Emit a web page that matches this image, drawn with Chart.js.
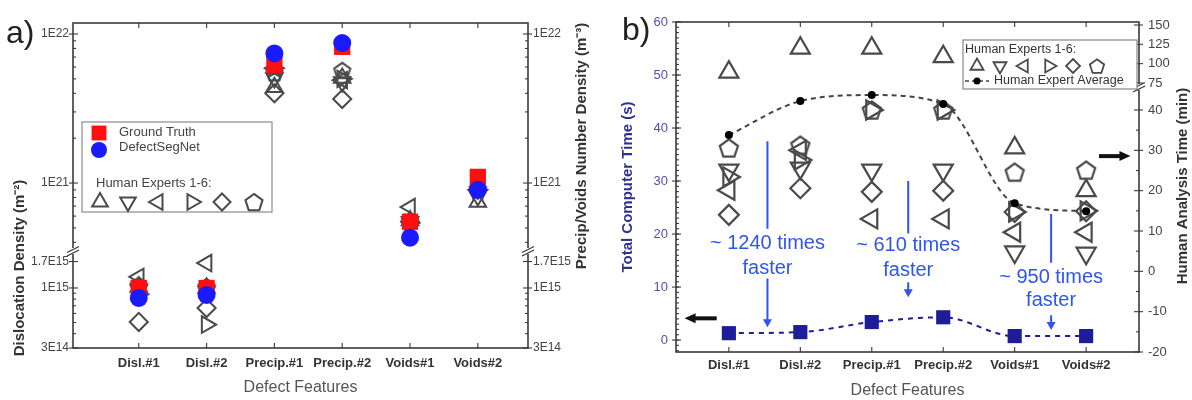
<!DOCTYPE html>
<html>
<head>
<meta charset="utf-8">
<script src="https://cdn.jsdelivr.net/npm/chart.js@4.4.1/dist/chart.umd.min.js"></script>
<style>
  html, body { margin: 0; padding: 0; background: #fff; }
  .panel { position: absolute; top: 0; width: 596px; height: 400px; }
  #panelA { left: 0; }
  #panelB { left: 596px; }
</style>
</head>
<body>
<div class="panel" id="panelA"><canvas id="chartA"></canvas></div>
<div class="panel" id="panelB"><canvas id="chartB"></canvas></div>
<script>
const features = ['Disl.#1', 'Disl.#2', 'Precip.#1', 'Precip.#2', 'Voids#1', 'Voids#2'];

// a) densities: Disl. in m^-2, Precip./Voids in m^-3
const groundTruth    = [1.0e15, 1.0e15, 6.2e21, 8.2e21, 5.5e20, 1.1e21];
const defectSegNet   = [8.2e14, 8.7e14, 7.4e21, 8.7e21, 4.3e20, 9.0e20];
const densityExpert1 = [1.02e15, 1.0e15, 4.4e21, 5.07e21, 5.6e20, 7.45e20];
const densityExpert2 = [9.6e14, 9.3e14, 5.07e21, 4.76e21, 5.5e20, 8.2e20];
const densityExpert3 = [1.25e15, 1.65e15, 5.9e21, 4.9e21, 6.9e20, 9.0e20];
const densityExpert4 = [8.8e14, 4.8e14, 5.9e21, 5.0e21, 5.4e20, 9.0e20];
const densityExpert5 = [5.06e14, 6.7e14, 4.0e21, 3.66e21, 5.5e20, 9.0e20];
const densityExpert6 = [1.06e15, 1.03e15, 5.5e21, 5.7e21, 5.6e20, 9.2e20];
const densityTicksLow  = [3e14, 1e15, 1.7e15];
const densityLabelsLow = ['3E14', '1E15', '1.7E15'];
const densityTicksHigh  = [1e21, 1e22];
const densityLabelsHigh = ['1E21', '1E22'];

// b) times: computer in s, human experts in min
const computerTime = [1.3, 1.5, 3.4, 4.3, 0.75, 0.75];
const timeExpert1 = [89, 120, 120, 109, 30.6, 20];
const timeExpert2 = [25.1, 25.6, 25.1, 25.1, 4.8, 4.5];
const timeExpert3 = [20.1, 30, 13, 13, 9.7, 9.7];
const timeExpert4 = [23.4, 27.6, 40, 40, 14.7, 15];
const timeExpert5 = [14, 20.6, 19.7, 20, 14.7, 14.9];
const timeExpert6 = [30.6, 31.3, 40, 40, 24.6, 25.1];
const timeAverage = [33.8, 42.2, 43.7, 41.5, 16.9, 14.9];
const computerTicks = [0, 10, 20, 30, 40, 50, 60];
const humanTicksLow = [-20, -10, 0, 10, 20, 30, 40];
const humanTicksHigh = [75, 100, 125, 150];
const speedupLabels = ['~ 1240 times', '~ 610 times', '~ 950 times'];

const expertKinds = ['up', 'down', 'left', 'right', 'diamond', 'pentagon'];

Chart.defaults.font.family = "'Liberation Sans', Arial, Helvetica, sans-serif";
Chart.defaults.color = '#444';
Chart.defaults.animation = false;

const FONT = "'Liberation Sans', Arial, Helvetica, sans-serif";
const INK = '#4a4a4a';

function markerPath(ctx, kind, x, y, r) {
  const rot = {up: 0, down: 180, left: 270, right: 90}[kind];
  ctx.beginPath();
  if (rot !== undefined) {
    for (let k = 0; k < 3; k++) {
      const t = rot * Math.PI / 180 + k * 2 * Math.PI / 3;
      const px = x + Math.sin(t) * r, py = y - Math.cos(t) * r;
      k ? ctx.lineTo(px, py) : ctx.moveTo(px, py);
    }
  } else if (kind === 'diamond') {
    ctx.moveTo(x, y - r); ctx.lineTo(x + r, y); ctx.lineTo(x, y + r); ctx.lineTo(x - r, y);
  } else if (kind === 'pentagon') {
    for (let k = 0; k < 5; k++) {
      const t = -Math.PI / 2 + k * 2 * Math.PI / 5;
      const px = x + Math.cos(t) * r, py = y + r * 0.1 + Math.sin(t) * r;
      k ? ctx.lineTo(px, py) : ctx.moveTo(px, py);
    }
  } else if (kind === 'square') {
    ctx.rect(x - r * 0.707, y - r * 0.707, r * 1.414, r * 1.414);
  } else {
    ctx.arc(x, y, r, 0, Math.PI * 2);
  }
  ctx.closePath();
}

function drawMarker(ctx, kind, x, y, r, stroke, fill, lw) {
  ctx.save();
  markerPath(ctx, kind, x, y, r);
  if (fill) { ctx.fillStyle = fill; ctx.fill(); }
  if (stroke) { ctx.strokeStyle = stroke; ctx.lineWidth = lw; ctx.stroke(); }
  ctx.restore();
}

function pentagonImage(r, lw) {
  const c = document.createElement('canvas');
  c.width = c.height = Math.ceil(2 * r + 2 * lw + 2);
  drawMarker(c.getContext('2d'), 'pentagon', c.width / 2, c.height / 2, r, INK, null, lw);
  return c;
}

function pointLook(kind, r, pent) {
  const base = {pointBorderColor: INK, pointBackgroundColor: 'rgba(0,0,0,0)', pointBorderWidth: 2, pointRadius: r, pointRotation: 0};
  if (kind === 'diamond') return {...base, pointStyle: 'rectRot', pointRadius: r * 0.95};
  if (kind === 'pentagon') return {...base, pointStyle: pent};
  return {...base, pointStyle: 'triangle', pointRotation: {up: 0, down: 180, left: 270, right: 90}[kind]};
}

const minorLog = (lo, hi) => {
  const out = [];
  for (let e = Math.floor(Math.log10(lo)); e <= Math.ceil(Math.log10(hi)); e++) {
    for (let m = 2; m <= 9; m++) {
      const v = m * Math.pow(10, e);
      if (v > lo && v < hi) out.push(v);
    }
  }
  return out;
};
const steps = (a, b, s) => { const out = []; for (let v = a; v <= b + 1e-9; v += s) out.push(v); return out; };

// frame, inward ticks and axis breaks
const framePlugin = {
  id: 'frame',
  beforeDatasetsDraw(chart, args, o) {
    const {ctx, chartArea: a} = chart;
    ctx.save();
    ctx.strokeStyle = '#3a3a3a';
    ctx.lineWidth = 1.6;
    ctx.strokeRect(a.left, a.top, a.right - a.left, a.bottom - a.top);
    ctx.lineWidth = 1.1;
    for (const t of o.ticks || []) {
      const s = chart.scales[t.scale];
      for (const v of t.values) {
        const p = s.getPixelForValue(v);
        ctx.beginPath();
        if (s.isHorizontal()) {
          ctx.moveTo(p, a.bottom); ctx.lineTo(p, a.bottom - t.len);
          ctx.moveTo(p, a.top); ctx.lineTo(p, a.top + t.len);
        } else {
          const left = s.position === 'left';
          const x = left ? a.left : a.right, d = left ? 1 : -1;
          ctx.moveTo(x - d * (t.out || 0), p); ctx.lineTo(x + d * t.len, p);
        }
        ctx.stroke();
      }
    }
    for (const b of o.breaks || []) {
      const s = chart.scales[b];
      const y = s.bottom;
      const x = s.position === 'left' ? a.left : a.right;
      ctx.fillStyle = '#fff';
      ctx.fillRect(x - 3, y - 3, 6, 6);
      ctx.lineWidth = 1.3;
      ctx.beginPath();
      ctx.moveTo(x - 6, y + 1.5); ctx.lineTo(x + 6, y - 4.5);
      ctx.moveTo(x - 6, y + 5); ctx.lineTo(x + 6, y - 1);
      ctx.stroke();
    }
    ctx.restore();
  }
};

function vtext(ctx, text, x, y, font, color) {
  ctx.save();
  ctx.translate(x, y);
  ctx.rotate(-Math.PI / 2);
  ctx.font = font;
  ctx.fillStyle = color;
  ctx.textAlign = 'center';
  ctx.textBaseline = 'middle';
  ctx.fillText(text, 0, 0);
  ctx.restore();
}

// ---------- a) ----------
const pentA = pentagonImage(8.5, 2);
const datasetsA = [];
function addDensity(label, values, look, order) {
  const low = [], high = [];
  values.forEach((v, i) => (features[i].startsWith('Disl') ? low : high).push({x: i, y: v}));
  datasetsA.push({label, data: low, yAxisID: 'yLow', order, clip: false, ...look});
  datasetsA.push({label, data: high, yAxisID: 'yHigh', order, clip: false, ...look});
}
addDensity('DefectSegNet', defectSegNet, {pointStyle: 'circle', pointRadius: 9, pointBackgroundColor: '#1a1aff', pointBorderColor: '#1a1aff', pointBorderWidth: 0}, 0);
addDensity('Ground Truth', groundTruth, {pointStyle: 'rect', pointRadius: 11.5, pointBackgroundColor: '#ff1010', pointBorderColor: '#ff1010', pointBorderWidth: 0}, 1);
[densityExpert1, densityExpert2, densityExpert3, densityExpert4, densityExpert5, densityExpert6].forEach((vals, k) => {
  addDensity('Human Expert ' + (k + 1), vals, pointLook(expertKinds[k], 9.5, pentA), 2);
});

function logAxis(position, stack, weight, min, max, ticks, labels, width, pad) {
  return {
    type: 'logarithmic', position, stack, stackWeight: weight, min, max, bounds: 'data',
    grid: {display: false, drawTicks: false}, border: {display: false},
    afterBuildTicks: s => { s.ticks = ticks.map(v => ({value: v})); },
    afterFit: s => { s.width = width; },
    ticks: {callback: (v, i) => labels[i], autoSkip: false, padding: pad, color: '#444', font: {size: 12}}
  };
}

const extrasA = {
  id: 'extrasA',
  afterDraw(chart) {
    const {ctx, chartArea: a} = chart;
    ctx.save();
    ctx.fillStyle = '#222';
    ctx.font = '32px ' + FONT;
    ctx.fillText('a)', 6, 43);
    vtext(ctx, 'Dislocation Density (m\u207B\u00B2)', 20, 268, 'bold 15px ' + FONT, '#333');
    vtext(ctx, 'Precip/Voids Number Density (m\u207B\u00B3)', 582, 146, 'bold 15px ' + FONT, '#333');

    const bx = a.left + 9, by = a.top + 99;
    ctx.strokeStyle = '#8a8a8a'; ctx.lineWidth = 1.2;
    ctx.strokeRect(bx, by, 190, 90);
    drawMarker(ctx, 'square', bx + 17, by + 11, 10.5, null, '#ff1010');
    drawMarker(ctx, 'circle', bx + 17, by + 28, 8, null, '#1a1aff');
    ctx.fillStyle = '#444';
    ctx.font = '13px ' + FONT;
    ctx.textBaseline = 'middle';
    ctx.fillText('Ground Truth', bx + 37, by + 10);
    ctx.fillText('DefectSegNet', bx + 37, by + 25);
    ctx.fillText('Human Experts 1-6:', bx + 14, by + 61);
    [18, 46, 76, 110, 140, 172].forEach((dx, k) => {
      drawMarker(ctx, expertKinds[k], bx + dx, by + 80, expertKinds[k] === 'diamond' ? 8.5 : 9, INK, null, 2);
    });
    ctx.restore();
  }
};

new Chart(document.getElementById('chartA'), {
  type: 'scatter',
  data: {datasets: datasetsA},
  options: {
    responsive: true,
    maintainAspectRatio: false,
    layout: {padding: {top: 23, left: 0, right: 0, bottom: 0}},
    plugins: {
      legend: {display: false},
      tooltip: {enabled: false},
      frame: {
        ticks: [
          {scale: 'x', values: features.map((f, i) => i), len: 5},
          {scale: 'yHigh', values: densityTicksHigh, len: 5, out: 4},
          {scale: 'yHigh', values: minorLog(3.5e20, 1.185e22), len: 3},
          {scale: 'yLow', values: densityTicksLow, len: 5, out: 4},
          {scale: 'yLow', values: minorLog(3e14, 2.1e15), len: 3},
          {scale: 'yHighR', values: densityTicksHigh, len: 5, out: 4},
          {scale: 'yHighR', values: minorLog(3.5e20, 1.185e22), len: 3},
          {scale: 'yLowR', values: densityTicksLow, len: 5, out: 4},
          {scale: 'yLowR', values: minorLog(3e14, 2.1e15), len: 3}
        ],
        breaks: ['yHigh', 'yHighR']
      }
    },
    scales: {
      x: {
        type: 'linear', min: -0.97, max: 5.74, bounds: 'data',
        grid: {display: false, drawTicks: false}, border: {display: false},
        afterBuildTicks: s => { s.ticks = features.map((f, i) => ({value: i})); },
        afterFit: s => { s.height = 52; },
        ticks: {callback: v => features[v], autoSkip: false, maxRotation: 0, padding: 8, color: '#333', font: {size: 13, weight: 'bold'}},
        title: {display: true, text: 'Defect Features', color: '#555', font: {size: 16}, padding: {top: 0, bottom: 3}}
      },
      yLow: logAxis('left', 'densL', 97, 3e14, 2.1e15, densityTicksLow, densityLabelsLow, 73, 4),
      yHigh: logAxis('left', 'densL', 228, 3.5e20, 1.185e22, densityTicksHigh, densityLabelsHigh, 73, 4),
      yHighR: logAxis('right', 'densR', 228, 3.5e20, 1.185e22, densityTicksHigh, densityLabelsHigh, 68, 5),
      yLowR: logAxis('right', 'densR', 97, 3e14, 2.1e15, densityTicksLow, densityLabelsLow, 68, 5)
    }
  },
  plugins: [framePlugin, extrasA]
});

// ---------- b) ----------
const pentB = pentagonImage(9.5, 2.2);
const datasetsB = [
  {
    label: 'Computer', data: computerTime.map((v, i) => ({x: i, y: v})), yAxisID: 'yTime', order: 0, clip: false,
    showLine: true, borderColor: '#1d1d99', borderWidth: 2, borderDash: [5, 5], cubicInterpolationMode: 'monotone',
    pointStyle: 'rect', pointRadius: 10, pointBackgroundColor: '#1d1d99', pointBorderColor: '#1d1d99', pointBorderWidth: 0
  },
  {
    label: 'Human Expert Average', data: timeAverage.map((v, i) => ({x: i, y: v})), yAxisID: 'yHumanLow', order: 1, clip: false,
    showLine: true, borderColor: '#444', borderWidth: 2, borderDash: [5, 4], cubicInterpolationMode: 'monotone',
    pointStyle: 'circle', pointRadius: 4, pointBackgroundColor: '#000', pointBorderColor: '#000', pointBorderWidth: 0
  }
];
[timeExpert1, timeExpert2, timeExpert3, timeExpert4, timeExpert5, timeExpert6].forEach((vals, k) => {
  const low = [], high = [];
  vals.forEach((v, i) => (v > 60 ? high : low).push({x: i, y: v}));
  const look = pointLook(expertKinds[k], expertKinds[k] === 'diamond' ? 10.5 : 11, pentB);
  look.pointBorderWidth = 2.2;
  datasetsB.push({label: 'Human Expert ' + (k + 1), data: low, yAxisID: 'yHumanLow', order: 2, clip: false, ...look});
  if (high.length) datasetsB.push({label: 'Human Expert ' + (k + 1), data: high, yAxisID: 'yHumanHigh', order: 2, clip: false, ...look});
});

function linAxis(position, stack, weight, min, max, ticks, width, pad, color) {
  return {
    type: 'linear', position, stack, stackWeight: weight, min, max, bounds: 'data',
    grid: {display: false, drawTicks: false}, border: {display: false},
    afterBuildTicks: s => { s.ticks = ticks.map(v => ({value: v})); },
    afterFit: s => { s.width = width; },
    ticks: {autoSkip: false, padding: pad, color, font: {size: 13}}
  };
}

function arrowHead(ctx, x, y, dx, dy, len, half) {
  // tip at (x, y), pointing along (dx, dy)
  ctx.beginPath();
  ctx.moveTo(x, y);
  ctx.lineTo(x - dx * len - dy * half, y - dy * len + dx * half);
  ctx.lineTo(x - dx * len + dy * half, y - dy * len - dx * half);
  ctx.closePath();
  ctx.fill();
}

const extrasB = {
  id: 'extrasB',
  afterDraw(chart, args, o) {
    const {ctx, chartArea: a, scales} = chart;
    const xs = scales.x, yt = scales.yTime;
    ctx.save();
    ctx.fillStyle = '#222';
    ctx.font = '32px ' + FONT;
    ctx.fillText('b)', 26, 40);
    vtext(ctx, 'Human Analysis Time (min)', 587, 186, 'bold 15px ' + FONT, '#333');

    // speed-up notes
    const blue = '#2f55f0';
    ctx.strokeStyle = blue; ctx.fillStyle = blue; ctx.lineWidth = 2;
    ctx.font = '20px ' + FONT;
    ctx.textAlign = 'center'; ctx.textBaseline = 'middle';
    o.speedups.forEach((sp, i) => {
      const x = xs.getPixelForValue(sp.x);
      ctx.beginPath();
      ctx.moveTo(x, yt.getPixelForValue(sp.line[0])); ctx.lineTo(x, yt.getPixelForValue(sp.line[1]));
      ctx.moveTo(x, yt.getPixelForValue(sp.arrow[0])); ctx.lineTo(x, yt.getPixelForValue(sp.arrow[1]) - 6);
      ctx.stroke();
      arrowHead(ctx, x, yt.getPixelForValue(sp.arrow[1]), 0, 1, 8, 4.5);
      ctx.fillText(speedupLabels[i], x, yt.getPixelForValue(sp.text[0]));
      ctx.fillText('faster', x, yt.getPixelForValue(sp.text[1]));
    });

    // black axis pointers
    ctx.strokeStyle = '#111'; ctx.fillStyle = '#111'; ctx.lineWidth = 4;
    o.pointers.forEach(p => {
      const x0 = xs.getPixelForValue(p.from), x1 = xs.getPixelForValue(p.to), y = yt.getPixelForValue(p.y);
      const d = Math.sign(x1 - x0);
      ctx.beginPath(); ctx.moveTo(x0, y); ctx.lineTo(x1 - d * 8, y); ctx.stroke();
      arrowHead(ctx, x1, y, d, 0, 11, 5);
    });

    // legend
    const bx = a.right - 176, by = a.top + 18;
    ctx.fillStyle = '#fff';
    ctx.fillRect(bx, by, 174, 49);
    ctx.strokeStyle = '#888'; ctx.lineWidth = 1.2;
    ctx.strokeRect(bx, by, 174, 49);
    ctx.fillStyle = '#333';
    ctx.font = '12.5px ' + FONT;
    ctx.textAlign = 'left';
    ctx.fillText('Human Experts 1-6:', bx + 2, by + 10);
    [14, 37, 61, 86, 110, 134].forEach((dx, k) => {
      drawMarker(ctx, expertKinds[k], bx + dx, by + 26, expertKinds[k] === 'diamond' ? 7 : 7.5, INK, null, 1.8);
    });
    ctx.strokeStyle = '#444'; ctx.lineWidth = 1.6; ctx.setLineDash([4, 3]);
    ctx.beginPath(); ctx.moveTo(bx + 2, by + 41); ctx.lineTo(bx + 26, by + 41); ctx.stroke();
    ctx.setLineDash([]);
    drawMarker(ctx, 'circle', bx + 14, by + 41, 3.5, null, '#000');
    ctx.fillText('Human Expert Average', bx + 31, by + 41);
    ctx.restore();
  }
};

new Chart(document.getElementById('chartB'), {
  type: 'scatter',
  data: {datasets: datasetsB},
  options: {
    responsive: true,
    maintainAspectRatio: false,
    layout: {padding: {top: 22, left: 0, right: 0, bottom: 0}},
    plugins: {
      legend: {display: false},
      tooltip: {enabled: false},
      frame: {
        ticks: [
          {scale: 'x', values: features.map((f, i) => i), len: 5},
          {scale: 'yTime', values: computerTicks, len: 5, out: 4},
          {scale: 'yTime', values: steps(-2, 59, 1), len: 3},
          {scale: 'yHumanLow', values: humanTicksLow, len: 5, out: 4},
          {scale: 'yHumanLow', values: steps(-15, 45, 10), len: 3},
          {scale: 'yHumanHigh', values: humanTicksHigh, len: 5, out: 4}
        ],
        breaks: ['yHumanHigh']
      },
      extrasB: {
        speedups: [
          {x: 0.54, line: [37.5, 21], text: [18.2, 13.5], arrow: [11.6, 2.4]},
          {x: 2.51, line: [30, 20.1], text: [17.8, 13.1], arrow: [10.9, 8.1]},
          {x: 4.51, line: [23.8, 14.6], text: [11.8, 7.5], arrow: [4.7, 1.9]}
        ],
        pointers: [
          {from: -0.17, to: -0.62, y: 4.1},
          {from: 5.18, to: 5.62, y: 34.7}
        ]
      }
    },
    scales: {
      x: {
        type: 'linear', min: -0.74, max: 5.74, bounds: 'data',
        grid: {display: false, drawTicks: false}, border: {display: false},
        afterBuildTicks: s => { s.ticks = features.map((f, i) => ({value: i})); },
        afterFit: s => { s.height = 48; },
        ticks: {callback: v => features[v], autoSkip: false, maxRotation: 0, padding: 6, color: '#333', font: {size: 13, weight: 'bold'}},
        title: {display: true, text: 'Defect Features', color: '#555', font: {size: 16}, padding: {top: 0, bottom: 0}}
      },
      yTime: {
        ...linAxis('left', undefined, 1, -2.25, 60, computerTicks, 80, 8, '#5050b0'),
        title: {display: true, text: 'Total Computer Time (s)', color: '#2e3192', font: {size: 15, weight: 'bold'}, padding: {top: 23, bottom: 0}}
      },
      yHumanHigh: linAxis('right', 'human', 65, 69.8, 153.9, humanTicksHigh, 53, 9, '#444'),
      yHumanLow: linAxis('right', 'human', 265, -20, 45.7, humanTicksLow, 53, 9, '#444')
    }
  },
  plugins: [framePlugin, extrasB]
});
</script>
</body>
</html>
